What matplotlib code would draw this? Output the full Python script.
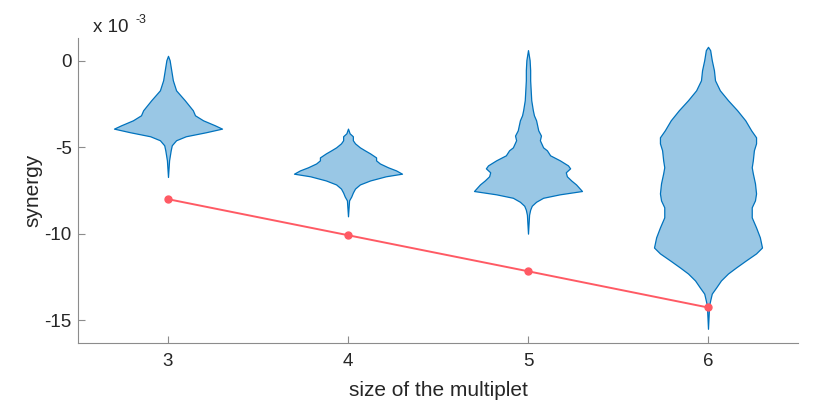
import matplotlib.pyplot as plt
import numpy as np

plt.rcParams['font.family'] = ['Liberation Sans', 'DejaVu Sans']
plt.rcParams['axes.unicode_minus'] = False

# synergy values are in units of 1e-3
sizes = [3, 4, 5, 6]
mean_line = [-8.0, -10.08, -12.16, -14.25]

# violin outlines: y level and relative half width
v3_y = [0.27, 0.02, -0.56, -1.14, -1.72, -2.29, -2.87, -3.16, -3.45, -3.74,
        -3.93, -4.14, -4.37, -4.60, -4.89, -5.18, -5.76, -6.72]
v3_w = [0, 0.03, 0.06, 0.09, 0.15, 0.31, 0.46, 0.50, 0.65, 0.87,
        1.0, 0.70, 0.33, 0.15, 0.07, 0.05, 0.02, 0]

v4_y = [-3.93, -4.20, -4.37, -4.60, -4.78, -5.01, -5.18, -5.36, -5.59, -5.76,
        -5.94, -6.16, -6.34, -6.53, -6.68, -6.92, -7.15, -7.39, -7.62, -7.85,
        -8.07, -8.99]
v4_w = [0, 0.03, 0.09, 0.09, 0.13, 0.22, 0.31, 0.41, 0.52, 0.52,
        0.59, 0.74, 0.89, 1.0, 0.70, 0.41, 0.22, 0.13, 0.09, 0.06,
        0.02, 0]

v5_y = [0.60, 0.02, -0.56, -1.14, -1.72, -2.29, -2.87, -3.16, -3.45, -3.74,
        -4.03, -4.33, -4.60, -5.01, -5.18, -5.47, -5.76, -6.05, -6.22, -6.45,
        -6.68, -6.92, -7.15, -7.53, -7.72, -7.92, -8.15, -8.38, -8.61, -8.90,
        -9.99]
v5_w = [0, 0.03, 0.04, 0.04, 0.05, 0.06, 0.09, 0.11, 0.15, 0.17,
        0.19, 0.24, 0.22, 0.28, 0.35, 0.41, 0.59, 0.74, 0.78, 0.70,
        0.72, 0.80, 0.89, 1.0, 0.59, 0.28, 0.15, 0.07, 0.04, 0.02,
        0]

v6_y = [0.79, 0.60, 0.02, -0.56, -1.14, -1.72, -2.29, -2.87, -3.45, -4.03,
        -4.43, -4.78, -5.18, -5.76, -6.16, -6.51, -7.09, -7.67, -8.07, -8.47,
        -9.05, -9.63, -10.20, -10.79, -11.13, -11.54, -11.94, -12.29, -12.69, -13.10,
        -13.45, -13.85, -14.14, -15.48]
v6_w = [0, 0.04, 0.07, 0.11, 0.13, 0.22, 0.37, 0.54, 0.69, 0.80,
        0.89, 0.89, 0.85, 0.83, 0.81, 0.83, 0.87, 0.89, 0.87, 0.81,
        0.81, 0.89, 0.96, 1.0, 0.89, 0.70, 0.52, 0.37, 0.24, 0.15,
        0.07, 0.04, 0.02, 0]

profiles = [(v3_y, v3_w), (v4_y, v4_w), (v5_y, v5_w), (v6_y, v6_w)]

fig = plt.figure(figsize=(8.3, 4.17), dpi=100)
ax = fig.add_axes([78/830, 1 - 343/417, 720/830, 305/417])

half = 0.3
for pos, (py, pw) in zip(sizes, profiles):
    pw = np.array(pw) * half
    ax.fill_betweenx(py, pos - pw, pos + pw, facecolor='#99C7E5',
                     edgecolor='#0072BD', linewidth=0.9, zorder=2)

ax.plot(sizes, mean_line, '-o', color='#FF5A64', lw=1.4, ms=5, zorder=3)

ax.set_xlim(2.5, 6.5)
ax.set_ylim(-16.3, 1.3)
ax.set_xticks(sizes)
ax.set_yticks([0, -5, -10, -15])
ax.set_yticklabels(['0', '-5', '-10', '-15'])

for s in ['top', 'right']:
    ax.spines[s].set_visible(False)
for s in ['left', 'bottom']:
    ax.spines[s].set_color('#8C8C8C')
    ax.spines[s].set_linewidth(0.8)
ax.tick_params(direction='in', length=5, width=0.8, color='#8C8C8C',
               labelcolor='#262626', labelsize=13.5)
ax.tick_params(axis='x', pad=7)
ax.tick_params(axis='y', pad=4.5)

ax.set_xlabel('size of the multiplet', fontsize=15, color='#262626')
ax.set_ylabel('synergy', fontsize=15, color='#262626')
ax.xaxis.set_label_coords(0.5, -0.125)
ax.yaxis.set_label_coords(-0.049, 0.5)

fig.text(93/830, 1 - 32/417, 'x 10', fontsize=13.5, color='#262626', va='baseline')
fig.text(135/830, 1 - 23/417, '-3', fontsize=9, color='#262626', va='baseline')

fig.savefig('out.png', dpi=100)
